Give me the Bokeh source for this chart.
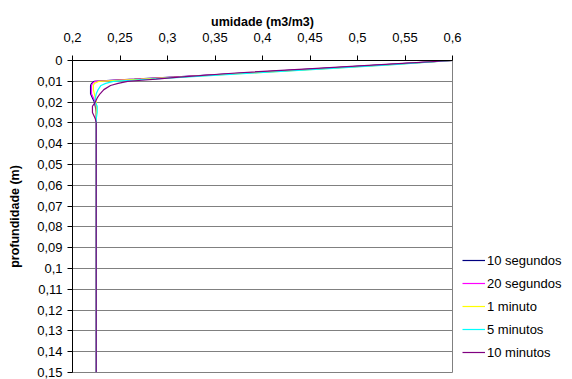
from bokeh.plotting import figure
from bokeh.models import Range1d, FixedTicker, Legend, LegendItem, LinearAxis
from bokeh.embed import file_html
from bokeh.resources import INLINE

# depth (m)
depth = [0.0, 0.002, 0.004, 0.006, 0.008, 0.009, 0.0095, 0.010, 0.011, 0.012, 0.014,
         0.016, 0.018, 0.020, 0.022, 0.025, 0.028, 0.030, 0.05, 0.10, 0.15]

# umidade (m3/m3)
s10 = [0.600, 0.530, 0.455, 0.380, 0.305, 0.265, 0.240, 0.223, 0.220, 0.219, 0.219,
       0.219, 0.221, 0.223, 0.224, 0.225, 0.225, 0.225, 0.225, 0.225, 0.225]
s20 = [0.600, 0.532, 0.458, 0.383, 0.308, 0.268, 0.243, 0.224, 0.221, 0.220, 0.220,
       0.220, 0.222, 0.224, 0.225, 0.225, 0.225, 0.225, 0.225, 0.225, 0.225]
m1 = [0.600, 0.535, 0.462, 0.388, 0.312, 0.272, 0.248, 0.228, 0.223, 0.222, 0.222,
      0.223, 0.224, 0.225, 0.225, 0.225, 0.225, 0.225, 0.225, 0.225, 0.225]
m5 = [0.600, 0.538, 0.465, 0.392, 0.318, 0.282, 0.262, 0.243, 0.235, 0.230, 0.227,
      0.225, 0.224, 0.224, 0.226, 0.226, 0.225, 0.225, 0.225, 0.225, 0.225]
m10 = [0.600, 0.525, 0.448, 0.372, 0.312, 0.288, 0.273, 0.258, 0.248, 0.240, 0.233,
       0.229, 0.226, 0.224, 0.221, 0.221, 0.224, 0.225, 0.225, 0.225, 0.225]

series = [("10 segundos", s10, "#000080"),
          ("20 segundos", s20, "#FF00FF"),
          ("1 minuto", m1, "#FFFF00"),
          ("5 minutos", m5, "#00FFFF"),
          ("10 minutos", m10, "#800080")]

x_ticks = [0.2, 0.25, 0.3, 0.35, 0.4, 0.45, 0.5, 0.55, 0.6]
x_labels = ["0,2", "0,25", "0,3", "0,35", "0,4", "0,45", "0,5", "0,55", "0,6"]
y_ticks = [0.0, 0.01, 0.02, 0.03, 0.04, 0.05, 0.06, 0.07, 0.08, 0.09, 0.1,
           0.11, 0.12, 0.13, 0.14, 0.15]
y_labels = ["0", "0,01", "0,02", "0,03", "0,04", "0,05", "0,06", "0,07", "0,08",
            "0,09", "0,1", "0,11", "0,12", "0,13", "0,14", "0,15"]

FONT = "Liberation Sans"

p = figure(frame_width=380, frame_height=312, output_backend="svg", toolbar_location=None,
           x_range=Range1d(0.2, 0.6), y_range=Range1d(0.15, 0.0),
           x_axis_location=None, y_axis_location=None,
           min_border_left=72, min_border_top=60, min_border_bottom=7, min_border_right=0)
p.background_fill_color = "white"
p.border_fill_color = "white"
p.outline_line_color = "#808080"
p.outline_line_width = 1

xa = LinearAxis(ticker=FixedTicker(ticks=x_ticks),
                major_label_overrides={t: l for t, l in zip(x_ticks, x_labels)},
                axis_label="umidade (m3/m3)")
ya = LinearAxis(ticker=FixedTicker(ticks=y_ticks),
                major_label_overrides={t: l for t, l in zip(y_ticks, y_labels)},
                axis_label="profundidade (m)")
for ax in (xa, ya):
    ax.axis_line_color = "black"
    ax.axis_line_width = 1
    ax.major_tick_line_color = "black"
    ax.major_tick_out = 5
    ax.major_tick_in = 0
    ax.minor_tick_out = 0
    ax.minor_tick_in = 0
    ax.major_label_text_font = FONT
    ax.major_label_text_font_size = "13px"
    ax.major_label_text_color = "black"
    ax.axis_label_text_font = FONT
    ax.axis_label_text_font_size = "12.5px"
    ax.axis_label_text_font_style = "bold"
    ax.axis_label_text_color = "black"
xa.major_label_standoff = 14
xa.axis_label_standoff = 1
ya.major_label_standoff = 5
ya.axis_label_standoff = 12
p.add_layout(xa, "above")
p.add_layout(ya, "left")

p.xgrid.visible = False
p.ygrid.ticker = FixedTicker(ticks=y_ticks)
p.ygrid.grid_line_color = "#808080"
p.ygrid.grid_line_width = 1

items = []
for name, vals, col in series:
    r = p.line(vals, depth, line_color=col, line_width=1.2)
    items.append(LegendItem(label=name, renderers=[r]))

legend = Legend(items=items, location="bottom_left", orientation="vertical")
legend.border_line_color = None
legend.background_fill_alpha = 0
legend.label_text_font = FONT
legend.label_text_font_size = "13px"
legend.label_text_color = "black"
legend.glyph_width = 23
legend.glyph_height = 20
legend.label_height = 20
legend.spacing = 3
legend.padding = 0
legend.margin = 10
legend.label_standoff = 2
p.add_layout(legend, "right")

open("out.html", "w").write(file_html(p, INLINE))
